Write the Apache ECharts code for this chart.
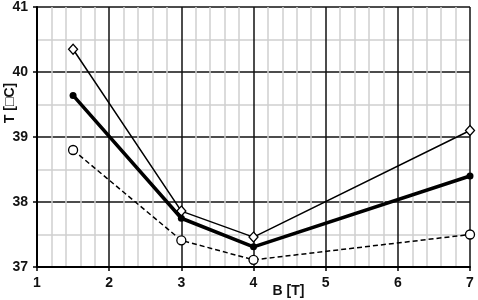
<!DOCTYPE html>
<html><head><meta charset="utf-8">
<script src="https://cdn.jsdelivr.net/npm/echarts@6/dist/echarts.min.js"></script>
<style>html,body{margin:0;padding:0;background:#fff}#c{width:478px;height:300px}</style>
</head><body><div id="c"></div>
<script>
var xValues = [1.5, 3, 4, 7];
var seriesDiamond = [40.35, 37.86, 37.46, 39.1];
var seriesFilled = [39.64, 37.75, 37.31, 38.4];
var seriesOpen = [38.8, 37.41, 37.11, 37.5];
var xName = 'B [T]';
var yName = 'T [\u25A1C]';

function pairs(v){ return xValues.map(function(x,i){ return [x, v[i]]; }); }
var font = '"Liberation Sans", Arial, sans-serif';
var chart = echarts.init(document.getElementById('c'), null, {renderer:'canvas'});
chart.setOption({
  animation:false,
  backgroundColor:'#fff',
  grid:{left:37, right:8, top:7, bottom:33, show:false, containLabel:false, outerBoundsMode:'none'},
  xAxis:{type:'value', min:1, max:7, interval:1,
    name:xName, nameLocation:'middle', nameGap:24, nameMoveOverlap:false,
    nameTextStyle:{fontFamily:font, fontWeight:'bold', fontSize:14, color:'#111', padding:[0,0,0,70], verticalAlign:'middle'},
    axisLine:{show:true, lineStyle:{color:'#000', width:2}},
    axisTick:{show:true, length:4, lineStyle:{color:'#000', width:1.5}},
    axisLabel:{fontFamily:font, fontWeight:'bold', fontSize:14, color:'#111', margin:9},
    splitLine:{show:true, lineStyle:{color:'#111', width:1.5, type:'solid'}},
    minorTick:{show:false, splitNumber:5},
    minorSplitLine:{show:true, lineStyle:{color:'#cfcfcf', width:1.5, type:'solid'}}
  },
  yAxis:{type:'value', min:37, max:41, interval:1,
    name:yName, nameLocation:'middle', nameGap:27, nameMoveOverlap:false,
    nameTextStyle:{fontFamily:font, fontWeight:'bold', fontSize:14, color:'#111', verticalAlign:'middle', padding:[0,0,0,68]},
    axisLine:{show:true, lineStyle:{color:'#000', width:2}},
    axisTick:{show:true, length:4, lineStyle:{color:'#000', width:1.5}},
    axisLabel:{fontFamily:font, fontWeight:'bold', fontSize:14, color:'#111', margin:9},
    splitLine:{show:true, lineStyle:{color:'#111', width:1.5, type:'solid'}},
    minorTick:{show:false, splitNumber:2},
    minorSplitLine:{show:true, lineStyle:{color:'#cfcfcf', width:1.5, type:'solid'}}
  },
  series:[
    {type:'line', data:pairs(seriesDiamond), symbol:'diamond', symbolSize:[9,10], showAllSymbol:true,
      lineStyle:{color:'#000', width:1.5}, itemStyle:{color:'#fff', borderColor:'#000', borderWidth:1.3}, z:3},
    {type:'line', data:pairs(seriesFilled), symbol:'circle', symbolSize:7,
      lineStyle:{color:'#000', width:3.5}, itemStyle:{color:'#000', borderColor:'#000', borderWidth:0}, z:4},
    {type:'line', data:pairs(seriesOpen), symbol:'circle', symbolSize:9,
      lineStyle:{color:'#000', width:1.5, type:[5,3]}, itemStyle:{color:'#fff', borderColor:'#000', borderWidth:1.3}, z:3}
  ]
});
</script></body></html>
